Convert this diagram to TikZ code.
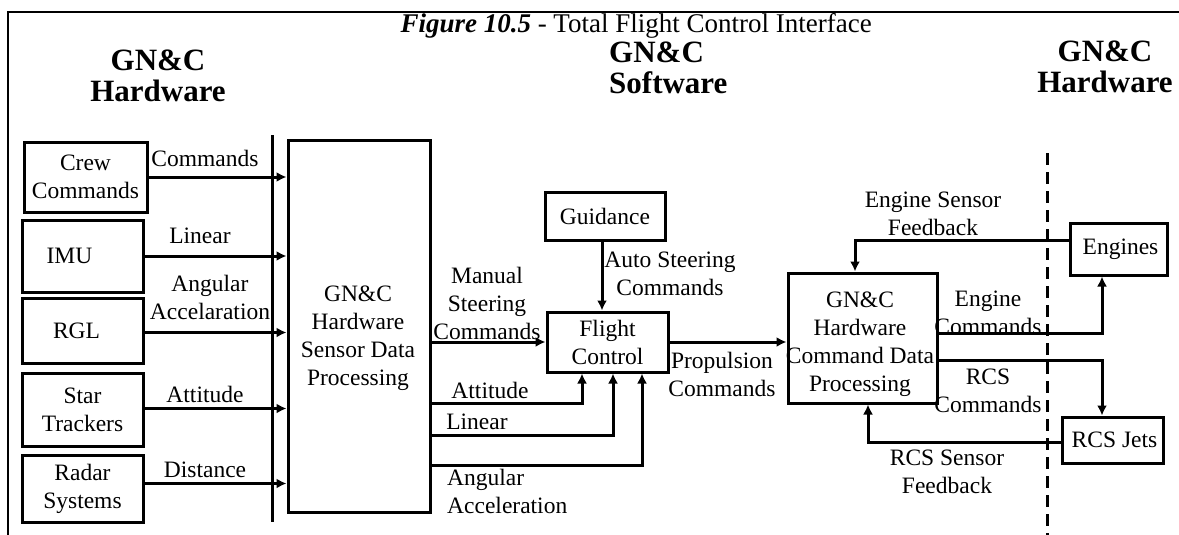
\documentclass[tikz,border=0pt]{standalone}
\usepackage{fontspec}
\setmainfont{Liberation Serif}
\usetikzlibrary{arrows.meta}
\newcommand\lblfont{\fontsize{23.5}{28}\selectfont}
\newcommand\headfont{\fontsize{31}{31}\selectfont\bfseries}
\begin{document}
\begin{tikzpicture}[x=1pt,y=-1pt,
  box/.style={draw, line width=3pt, inner sep=0pt, align=center, font=\lblfont},
  lbl/.style={inner sep=0pt, align=center, font=\lblfont},
  head/.style={inner sep=0pt, align=center, font=\headfont},
  arr/.style={line width=3pt, -{Latex[length=10pt,width=10pt]}}]
\useasboundingbox (0,0) rectangle (1179,535);
% frame and separators
\draw[line width=2pt] (8,535) -- (8,12) -- (1179,12);
\draw[line width=3pt] (272,135) -- (272,522);
\draw[line width=3pt, dash pattern=on 12pt off 7pt] (1047,153) -- (1047,535);
% title and headings
\node[anchor=base east, inner sep=0pt, font=\fontsize{27}{30}\selectfont] (title) at (872,33)
  {\textbf{\textit{Figure 10.5}} - Total Flight Control Interface};
\node[head] (hl) at (158,76) {GN\&C\\Hardware};
\node[head, align=left, anchor=west] (hm) at (609,68) {GN\&C\\Software};
\node[head] (hr) at (1105,67) {GN\&C\\Hardware};
% left boxes
\node[box, minimum width=123pt, minimum height=70pt] (crew) at (85.5,177) {Crew\\Commands};
\node[box, minimum width=121pt, minimum height=72pt] (imu) at (82.5,256) {IMU\hspace*{26pt}};
\node[box, minimum width=121pt, minimum height=65pt] (rgl) at (82.5,330.5) {RGL\hspace*{12pt}};
\node[box, minimum width=121pt, minimum height=73pt] (star) at (82.5,409.5) {Star\\Trackers};
\node[box, minimum width=121pt, minimum height=67pt] (radar) at (82.5,488.5) {Radar\\Systems};
% sensor processing
\node[box, minimum width=142pt, minimum height=372pt] (sens) at (359,326) {};
\node[lbl] (senst) at (358,338) {GN\&C\\Hardware\\Sensor Data\\Processing};
% flight control and guidance
\node[box, minimum width=121pt, minimum height=60pt] (fc) at (607.5,342) {Flight\\Control};
\node[box, minimum width=120pt, minimum height=48pt] (guid) at (605,216) {Guidance};
% command processing
\node[box, minimum width=149pt, minimum height=130pt] (cmd) at (862.5,338) {};
\node[lbl] (cmdt) at (860,344) {GN\&C\\Hardware\\Command Data\\Processing};
% right boxes
\node[box, minimum width=97pt, minimum height=52pt] (eng) at (1118.5,249) {\hspace*{4pt}Engines};
\node[box, minimum width=101pt, minimum height=46pt] (rcs) at (1112.5,440) {\hspace*{4pt}RCS Jets};
% left arrows
\draw[arr] (crew.east) -- (crew.east -| sens.west);
\draw[arr] (imu.east) -- (imu.east -| sens.west);
\draw[arr] ([yshift=-2pt]rgl.east) -- ([yshift=-2pt]rgl.east -| sens.west);
\draw[arr] ([yshift=1pt]star.east) -- ([yshift=1pt]star.east -| sens.west);
\draw[arr] ([yshift=5pt]radar.east) -- ([yshift=5pt]radar.east -| sens.west);
\node[lbl] (l1) at (205,158) {Commands};
\node[lbl] (l2) at (200,236) {Linear};
\node[lbl] (l3) at (210,297) {Angular\\Accelaration};
\node[lbl] (l4) at (205,394) {Attitude};
\node[lbl] (l5) at (205,470) {Distance};
% sensor -> flight control
\draw[arr] (fc.west -| sens.east) -- (fc.west);
\coordinate (b1) at (582,403);
\coordinate (b2) at (613,435);
\coordinate (b3) at (642,465);
\draw[arr] (b1 -| sens.east) -- (b1) -- (b1 |- fc.south);
\draw[arr] (b2 -| sens.east) -- (b2) -- (b2 |- fc.south);
\draw[arr] (b3 -| sens.east) -- (b3) -- (b3 |- fc.south);
\node[lbl] (m1) at (487,303) {Manual\\Steering\\Commands};
\node[lbl] (m2) at (490,390) {Attitude};
\node[lbl] (m3) at (477,422) {Linear};
\node[lbl, align=left, anchor=west] (m4) at (447,491) {Angular\\Acceleration};
% guidance
\draw[arr] ([xshift=-3pt]guid.south) -- ([xshift=-3pt]guid.south |- fc.north);
\node[lbl] (g1) at (670,274) {Auto Steering\\Commands};
% propulsion
\draw[arr] (fc.east) -- (fc.east -| cmd.west);
\node[lbl] (p1) at (722,374) {Propulsion\\Commands};
% right side
\coordinate (e1) at (855,240);
\coordinate (e2) at (1102,333);
\coordinate (e3) at (1102,360);
\coordinate (e4) at (868,442);
\draw[arr] (e1 -| eng.west) -- (e1) -- (e1 |- cmd.north);
\draw[arr] (e2 -| cmd.east) -- (e2) -- (e2 |- eng.south);
\draw[arr] (e3 -| cmd.east) -- (e3) -- (e3 |- rcs.north);
\draw[arr] (e4 -| rcs.west) -- (e4) -- (e4 |- cmd.south);
\node[lbl] (r1) at (933,214) {Engine Sensor\\Feedback};
\node[lbl] (r2) at (988,313) {Engine\\Commands};
\node[lbl] (r3) at (988,391) {RCS\\Commands};
\node[lbl] (r4) at (947,472) {RCS Sensor\\Feedback};
\end{tikzpicture}
\end{document}
